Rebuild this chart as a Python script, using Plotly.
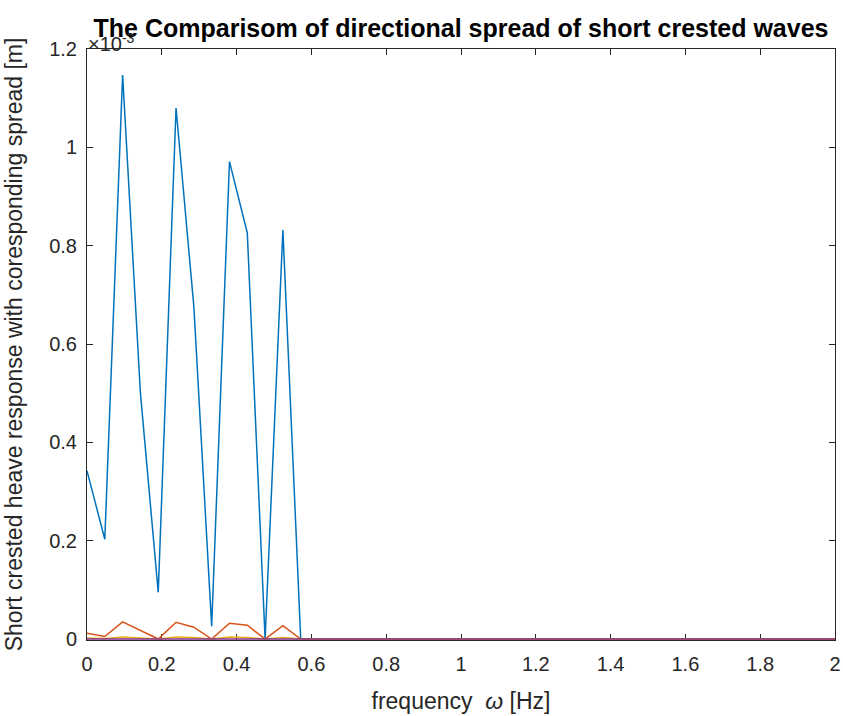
import plotly.graph_objects as go

# frequency grid (Hz)
freq = [round(i * 2 / 42, 5) for i in range(43)]

# values in units of 1e-3 m (as shown on the axis with the x10^-3 multiplier)
blue = [0.342, 0.203, 1.147, 0.50, 0.095, 1.08, 0.676, 0.026, 0.971, 0.826, 0.0, 0.832, 0.0] + [0.0] * 30
orange = [0.012, 0.005, 0.035, 0.017, 0.0, 0.034, 0.024, 0.0, 0.032, 0.028, 0.0, 0.027, 0.0] + [0.0] * 30
yellow = [0.002, 0.001, 0.004, 0.002, 0.0, 0.004, 0.003, 0.0, 0.004, 0.003, 0.0, 0.003, 0.0] + [0.0] * 30
purple = [0.0] * 43

yticks = [0, 0.2, 0.4, 0.6, 0.8, 1.0, 1.2]
ytick_labels = ["0", "0.2", "0.4", "0.6", "0.8", "1", "1.2"]
xticks = [0, 0.2, 0.4, 0.6, 0.8, 1.0, 1.2, 1.4, 1.6, 1.8, 2.0]
xtick_labels = ["0", "0.2", "0.4", "0.6", "0.8", "1", "1.2", "1.4", "1.6", "1.8", "2"]

colors = ["#0072BD", "#D95319", "#EDB120", "#7E2F8E"]
series = [blue, orange, yellow, purple]

fig = go.Figure()
for s, c in zip(series, colors):
    fig.add_trace(go.Scatter(x=freq, y=s, mode="lines", line=dict(color=c, width=1.5),
                             showlegend=False))

axcol = "#262626"
font = "Liberation Sans, Arial, Helvetica, sans-serif"
fig.update_layout(
    width=843, height=716,
    paper_bgcolor="white", plot_bgcolor="white",
    margin=dict(l=87, r=8, t=49, b=76),
    font=dict(family=font, color=axcol, size=20),
    title=dict(text="<b>The Comparisom of directional spread of short crested waves</b>",
               xref="paper", x=0.5, xanchor="center", y=0.961, yanchor="middle",
               font=dict(size=25, color="#000000"), automargin=False),
    xaxis=dict(range=[0, 2], tickvals=xticks, ticktext=xtick_labels,
               showline=True, linecolor=axcol, linewidth=1, mirror="ticks",
               ticks="inside", ticklen=6, tickcolor=axcol, showgrid=False, zeroline=False,
               tickfont=dict(size=20, color=axcol), ticklabeloverflow="allow",
               layer="below traces", automargin=False, ticklabelstandoff=6,
               title=dict(text="frequency  <i>ω</i> [Hz]", font=dict(size=23, color=axcol), standoff=18)),
    yaxis=dict(range=[-0.002, 1.2], tickvals=yticks, ticktext=ytick_labels,
               showline=True, linecolor=axcol, linewidth=1, mirror="ticks",
               ticks="inside", ticklen=6, tickcolor=axcol, showgrid=False, zeroline=False,
               tickfont=dict(size=20, color=axcol), ticklabeloverflow="allow",
               layer="below traces", automargin=False, ticklabelstandoff=5,
               title=dict(text="Short crested heave response with coresponding spread [m]",
                          font=dict(size=23, color=axcol), standoff=20)),
)

fig.add_annotation(xref="paper", yref="paper", x=0.0, y=1.0, xanchor="left", yanchor="bottom",
                   text="×10<sup>-3</sup>", showarrow=False, yshift=-8, xshift=-1,
                   font=dict(size=20, color=axcol, family=font))

fig.write_html("out.html", config={"displayModeBar": False},
               post_script="document.body.style.margin='0';")
